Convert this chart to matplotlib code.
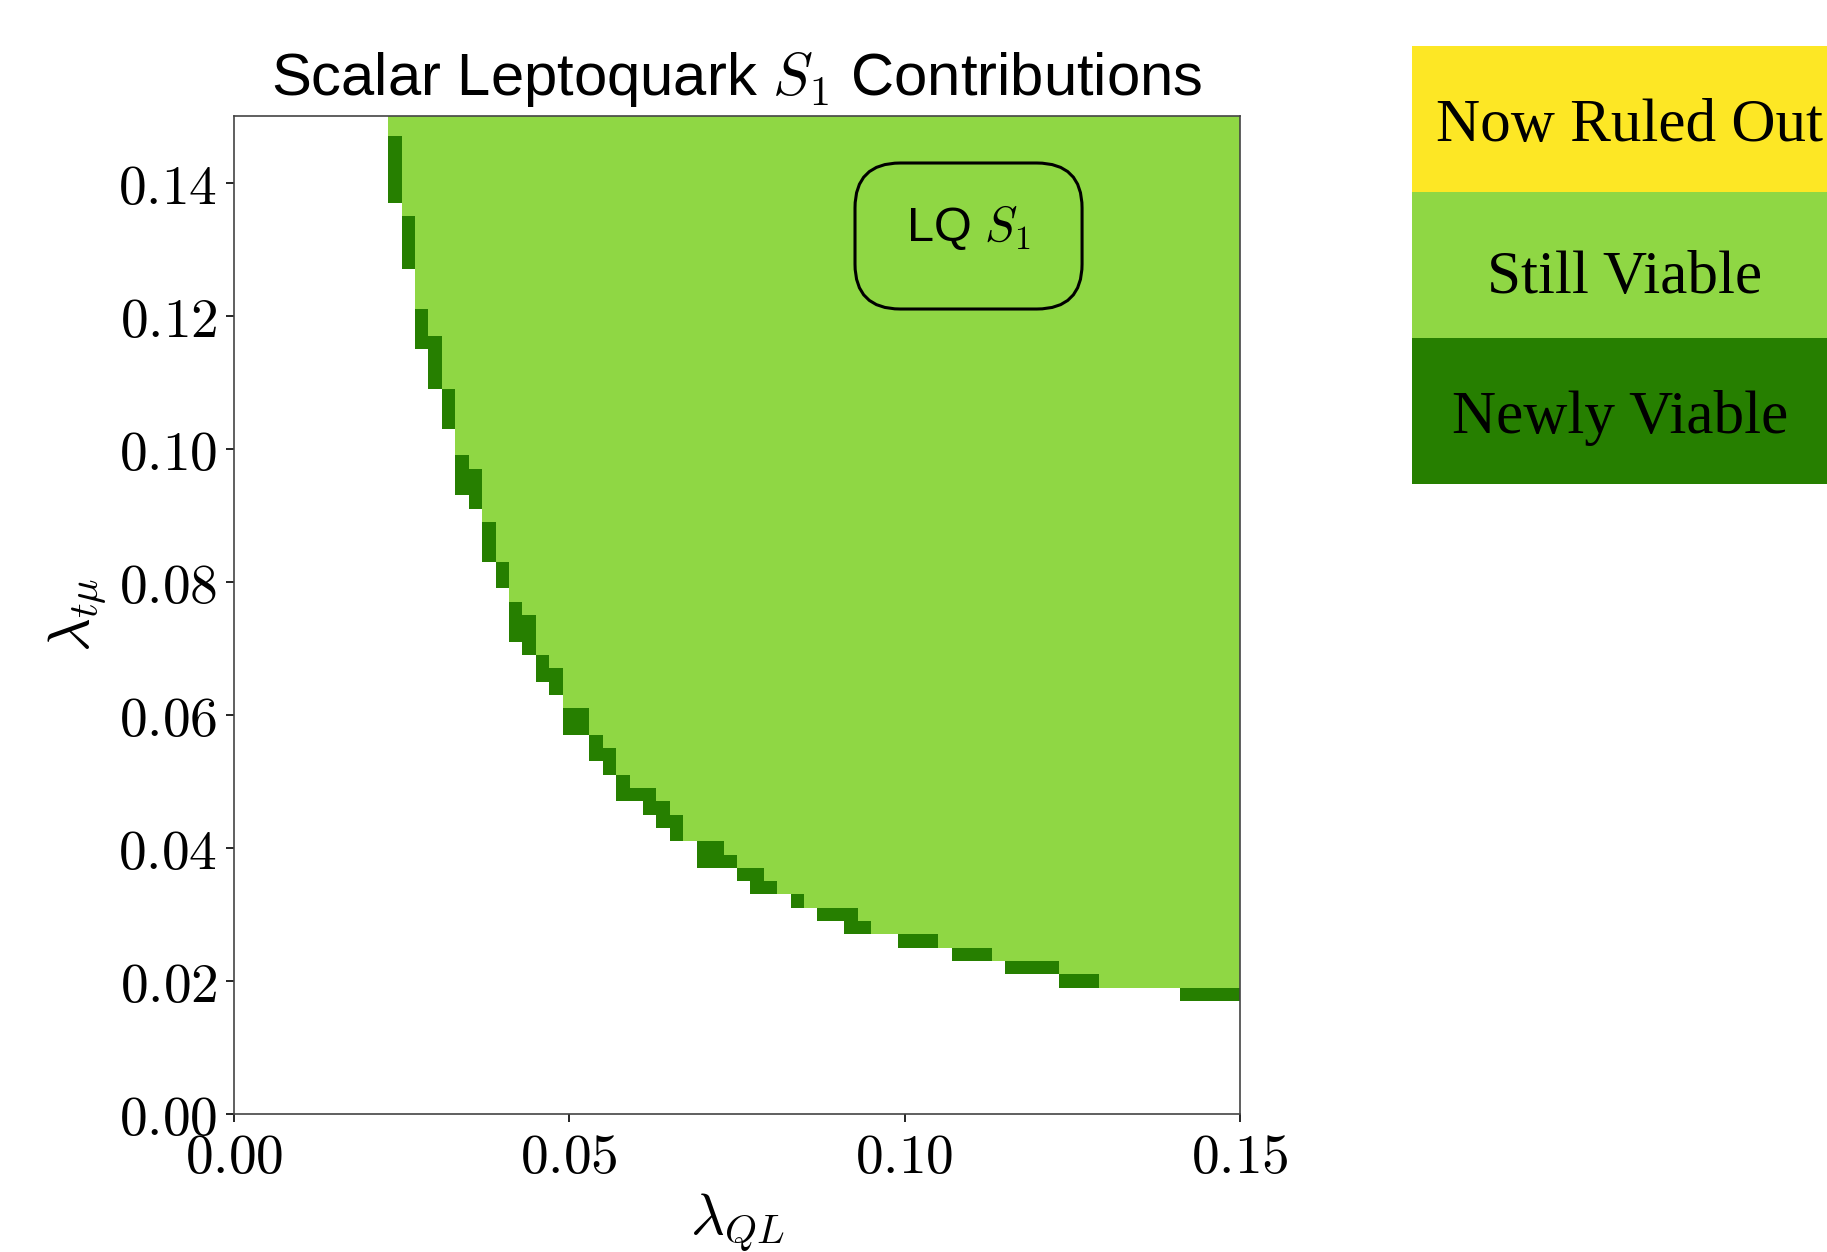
import numpy as np
import matplotlib
matplotlib.use("Agg")
import matplotlib.pyplot as plt
from matplotlib.colors import ListedColormap
from matplotlib.patches import Rectangle, FancyBboxPatch

plt.rcParams['mathtext.fontset'] = 'cm'

# grid of couplings (cell centres, step 0.002)
grid_step = 0.002
lam_ql_first = 0.024   # first column with any viable point

# lower edge of the "still viable" region for each column from lam_ql_first to 0.150
still_min = [0.148, 0.136, 0.122, 0.118, 0.110, 0.100, 0.098, 0.090, 0.084, 0.078,
             0.076, 0.070, 0.068, 0.062, 0.062, 0.058, 0.056, 0.052, 0.050, 0.050,
             0.048, 0.046, 0.042, 0.042, 0.042, 0.040, 0.038, 0.038, 0.036, 0.034,
             0.034, 0.032, 0.032, 0.032, 0.032, 0.030,
             0.028, 0.028, 0.028, 0.028, 0.028,
             0.026, 0.026, 0.026, 0.026,
             0.024, 0.024, 0.024, 0.024, 0.024,
             0.022, 0.022, 0.022,
             0.020, 0.020, 0.020, 0.020, 0.020, 0.020, 0.020, 0.020, 0.020, 0.020, 0.020]

# lower edge of the "newly viable" region for the same columns
new_min = [0.138, 0.128, 0.116, 0.110, 0.104, 0.094, 0.092, 0.084, 0.080, 0.072,
           0.070, 0.066, 0.064, 0.058, 0.058, 0.054, 0.052, 0.048, 0.048, 0.046,
           0.044, 0.042, 0.042, 0.038, 0.038, 0.038, 0.036, 0.034, 0.034, 0.034,
           0.032, 0.032, 0.030, 0.030, 0.028, 0.028, 0.028, 0.028,
           0.026, 0.026, 0.026, 0.026,
           0.024, 0.024, 0.024, 0.024,
           0.022, 0.022, 0.022, 0.022,
           0.020, 0.020, 0.020, 0.020, 0.020, 0.020, 0.020, 0.020, 0.020,
           0.018, 0.018, 0.018, 0.018, 0.018]

ticks = [0.00, 0.02, 0.04, 0.06, 0.08, 0.10, 0.12, 0.14]
xticks = [0.00, 0.05, 0.10, 0.15]

legend_labels = ['Now Ruled Out', 'Still Viable', 'Newly Viable']

c_yellow = '#FDE725'
c_light = '#8FD744'
c_dark = '#267F00'

# build the category map: 0 excluded, 1 newly viable, 2 still viable
n = 76
centres = np.arange(n) * grid_step
status = np.zeros((n, n), dtype=int)
i0 = int(round(lam_ql_first / grid_step))
for k, (s, nv) in enumerate(zip(still_min, new_min)):
    col = i0 + k
    for j in range(n):
        y = centres[j]
        if y >= s - 1e-9:
            status[j, col] = 2
        elif y >= nv - 1e-9:
            status[j, col] = 1

fig = plt.figure(figsize=(18.27, 12.52), dpi=100)
ax = fig.add_axes([234 / 1827, 1 - 1114 / 1252, 1006 / 1827, 998 / 1252])

cmap = ListedColormap(['white', c_dark, c_light])
half = grid_step / 2
ax.imshow(status, origin='lower', cmap=cmap, vmin=-0.5, vmax=2.5,
          interpolation='nearest', aspect='auto',
          extent=[-half, centres[-1] + half, -half, centres[-1] + half])

ax.set_xlim(0, 0.15)
ax.set_ylim(0, 0.15)
ax.set_xticks(xticks)
ax.set_xticklabels([f'${t:.2f}$' for t in xticks])
ax.set_yticks(ticks)
ax.set_yticklabels([f'${t:.2f}$' for t in ticks])
ax.tick_params(labelsize=40, length=6, width=1.2, pad=6)
for sp in ax.spines.values():
    sp.set_linewidth(1.2)
    sp.set_color('#444444')

ax.set_xlabel(r'$\lambda_{QL}$', fontsize=42)
ax.xaxis.set_label_coords(0.5, -0.078)
ax.set_ylabel(r'$\lambda_{t\mu}$', fontsize=42)
ax.yaxis.set_label_coords(-0.125, 0.5)

ax.set_title(r'Scalar Leptoquark $S_1$ Contributions', fontsize=43,
             family='Liberation Sans', pad=15)

# label box, drawn separately so the text can sit above its centre
ax.add_patch(FancyBboxPatch((0.6173, 0.8066), 0.843 - 0.6173, 0.9529 - 0.8066,
                            boxstyle='round,pad=0,rounding_size=0.045',
                            transform=ax.transAxes, fc='none', ec='black', lw=2.2))
ax.text(0.7296, 0.888, r'LQ $S_1$', transform=ax.transAxes, fontsize=35,
        family='Liberation Sans', ha='center', va='center')

# colour key on the right
key_colors = [c_yellow, c_light, c_dark]
key_centres = [1629, 1625, 1620]
key_baselines = [141, 293, 433]
box_h = 146 / 1252
top = 1 - 46 / 1252
for k, (lab, col) in enumerate(zip(legend_labels, key_colors)):
    y0 = top - (k + 1) * box_h
    fig.add_artist(Rectangle((1412 / 1827, y0), 0.3, box_h, transform=fig.transFigure,
                             facecolor=col, edgecolor='none'))
    fig.text(key_centres[k] / 1827, 1 - key_baselines[k] / 1252, lab, fontsize=44,
             family='Liberation Serif', ha='center', va='baseline')

fig.savefig('out.png', dpi=100)
